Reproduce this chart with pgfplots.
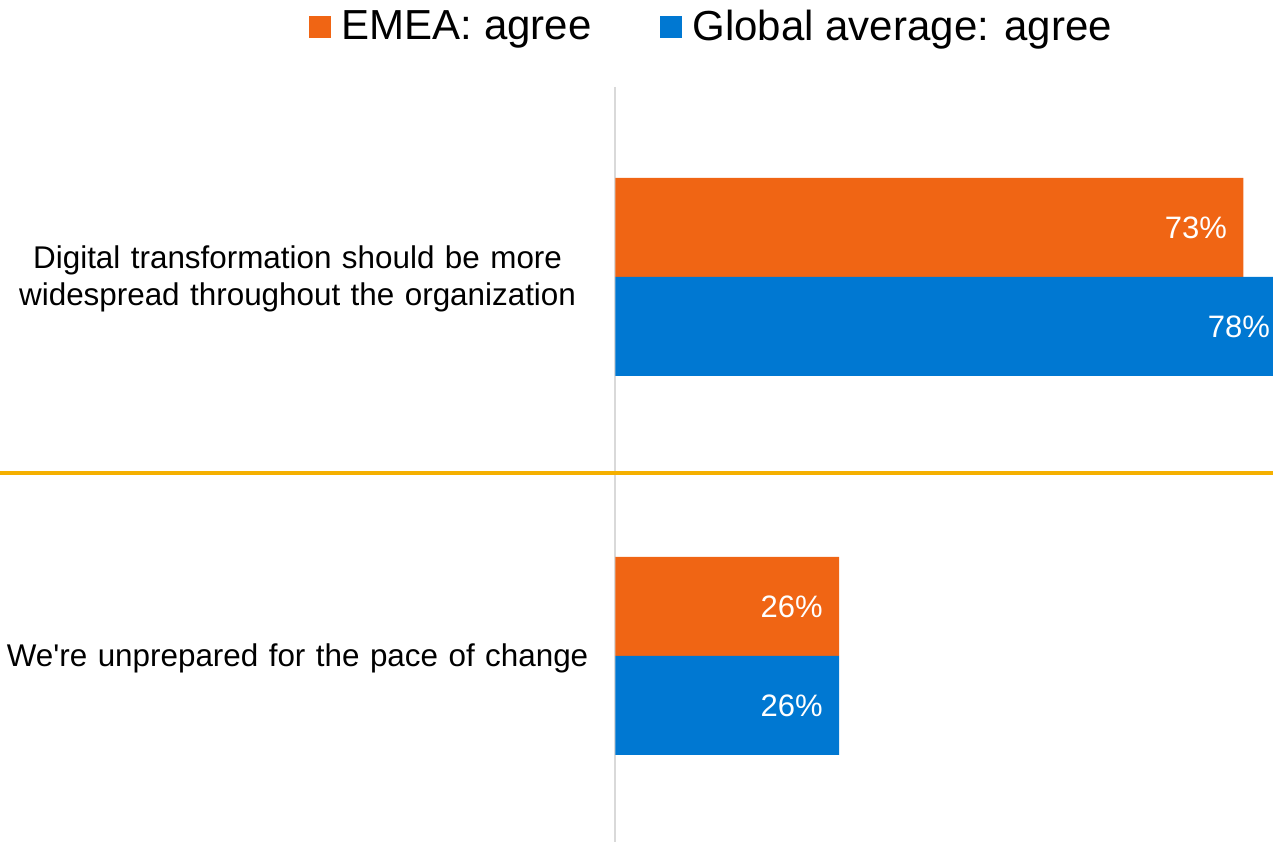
\documentclass[border=0pt]{standalone}
\usepackage{fontspec}
\setmainfont{Liberation Sans}
\usepackage{pgfplots}
\pgfplotsset{compat=1.18}
\definecolor{emea}{RGB}{240,101,20}
\definecolor{glob}{RGB}{0,120,210}
\definecolor{sep}{RGB}{245,176,0}
\definecolor{axgray}{RGB}{217,217,217}
\begin{document}
\begin{tikzpicture}
\begin{axis}[
  scale only axis,
  width=328.75pt, height=377.5pt,
  xbar,
  y dir=reverse,
  xmin=0, xmax=76.45,
  ymin=-0.501, ymax=1.491,
  bar width=0.2612,
  axis x line=none,
  axis y line*=left,
  y axis line style={axgray, line width=1pt, -},
  ytick={0,1},
  yticklabels={{Digital transformation should be more\\widespread throughout the organization},{We\textquotesingle re unprepared for the pace of change}},
  major tick length=0pt,
  yticklabel style={text width=300pt, align=center, inner sep=0pt, xshift=-8.75pt, yshift=-1pt,
    font=\fontsize{15.7}{18.6}\selectfont},
  clip=false,
  nodes near coords={\pgfmathprintnumber[assume math mode=true]{\pgfplotspointmeta}\%},
  nodes near coords style={anchor=east, xshift=-8pt, inner sep=0pt, text=white,
    font=\fontsize{15.5}{18}\selectfont},
  legend columns=2,
  legend style={draw=none, fill=none, at={(0.1475,1.0795)}, anchor=center,
    font=\fontsize{21}{24}\selectfont,
    /tikz/every odd column/.append style={column sep=3.5pt},
    /tikz/every even column/.append style={column sep=32pt}},
  legend image code/.code={\fill[#1] (0pt,-5.5pt) rectangle (11pt,5.5pt);},
]
\addplot[fill=emea, draw=none, bar shift=-0.1306] coordinates {(73,0) (26,1)};
\addlegendentry{EMEA: agree}
\addplot[fill=glob, draw=none, bar shift=0.1306] coordinates {(78,0) (26,1)};
\addlegendentry{Global average: agree}
\draw[sep, line width=2pt] (axis cs:-72,0.517) -- (axis cs:80,0.517);
\end{axis}
\pgfresetboundingbox
\useasboundingbox ([xshift=-307.75pt]current axis.south west) rectangle ([yshift=43.5pt]current axis.north east);
\end{tikzpicture}
\end{document}
